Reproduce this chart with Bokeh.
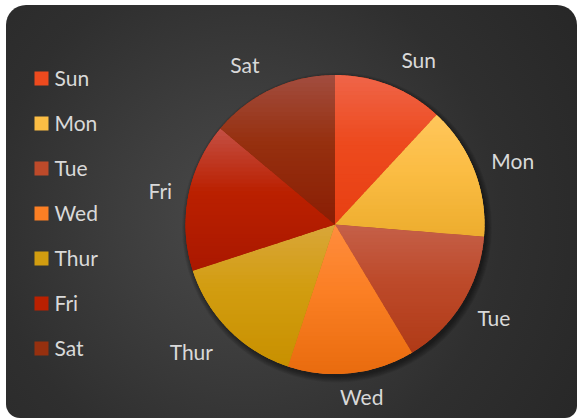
import numpy as np
from bokeh.plotting import figure
from bokeh.models import Range1d, ColumnDataSource
from bokeh.embed import file_html
from bokeh.resources import INLINE
from bokeh.core.properties import value

# ---------------- data ----------------
days = ["Sun", "Mon", "Tue", "Wed", "Thur", "Fri", "Sat"]
shares = [11.9, 14.4, 15.1, 13.7, 14.9, 16.1, 13.9]

# ---------------- styles ----------------
col_top = ["#EF6549", "#FFC65C", "#C56049", "#FF8D3E", "#D9A63A", "#C45045", "#A24D40"]
col_mid = ["#ED4A1E", "#FBBD44", "#BD4A2A", "#FB7F24", "#D29D10", "#BA2000", "#96300F"]
col_bot = ["#E83F12", "#EDAD2E", "#B03A17", "#E96C0E", "#C89000", "#AA1800", "#8A1E04"]
# small label nudges in screen px (x right, y down)
label_dx = [18, 10, 6, 7, -16, 2, -14]
label_dy = [3, 1, -2, -7, 0, 0, 3]

W, H = 571, 413
CX, CY, R = 328.5, 194.0, 149.5
FONT = "Lato"
TXT = "#D9D9D9"

p = figure(width=W, height=H, x_range=Range1d(0, W), y_range=Range1d(0, H),
           output_backend="svg", toolbar_location=None, min_border=0,
           background_fill_alpha=0, border_fill_alpha=0, outline_line_color=None)
p.axis.visible = False
p.grid.visible = False
p.styles = {
    "margin": "5px 0px 0px 6px",
    "border-radius": "20px 20px 12px 14px",
    "overflow": "hidden",
    "background": "radial-gradient(circle at 42% 52%, #4a4a4a 0%, #3e3e3e 30%, #2f2f2f 65%, #272727 100%)",
}

vals = np.array(shares, dtype=float)
frac = vals / vals.sum()
cum = np.concatenate([[0.0], np.cumsum(frac)])
start = np.pi / 2 - 2 * np.pi * cum[:-1]
end = np.pi / 2 - 2 * np.pi * cum[1:]

# soft shadow
for k in range(7):
    p.circle(x=[CX + 2], y=[CY - 3], radius=R + k * 0.9, fill_color="black",
             fill_alpha=0.07, line_color=None)

src = ColumnDataSource(dict(day=days, start=start, end=end, color=col_mid))
p.wedge(x=CX, y=CY, radius=R, start_angle="start", end_angle="end",
        direction="clock", fill_color="color", line_color=None, source=src)


# vertical gradient shading of each slice
def clip(pts, y0, y1):
    def half(poly, keep, inter):
        out = []
        n = len(poly)
        for i in range(n):
            a, b = poly[i], poly[(i + 1) % n]
            ka, kb = keep(a), keep(b)
            if ka:
                out.append(a)
            if ka != kb:
                out.append(inter(a, b))
        return out

    def ix(y):
        return lambda a, b: (a[0] + (b[0] - a[0]) * (y - a[1]) / (b[1] - a[1]), y)

    poly = half(pts, lambda q: q[1] >= y0, ix(y0))
    if not poly:
        return []
    return half(poly, lambda q: q[1] <= y1, ix(y1))


def hex2rgb(h):
    return np.array([int(h[i:i + 2], 16) for i in (1, 3, 5)], dtype=float)


def mix(c0, c1, c2, t):
    a, b, c = hex2rgb(c0), hex2rgb(c1), hex2rgb(c2)
    if t < 0.45:
        r = a + (b - a) * (t / 0.45)
    else:
        r = b + (c - b) * ((t - 0.45) / 0.55)
    return "#%02x%02x%02x" % tuple(int(round(v)) for v in r)


xs, ys, cs = [], [], []
NB = 36
for i in range(len(days)):
    ang = np.linspace(start[i], end[i], 80)
    poly = [(CX, CY)] + [(CX + R * np.cos(a), CY + R * np.sin(a)) for a in ang]
    ymax = max(q[1] for q in poly)
    ymin = min(q[1] for q in poly)
    edges = np.linspace(ymax, ymin, NB + 1)
    for k in range(NB):
        seg = clip(poly, edges[k + 1] - 0.4, edges[k] + 0.4)
        if len(seg) < 3:
            continue
        t = (k + 0.5) / NB
        xs.append([q[0] for q in seg])
        ys.append([q[1] for q in seg])
        cs.append(mix(col_top[i], col_mid[i], col_bot[i], t))
p.patches(xs=xs, ys=ys, fill_color=cs, line_color=None)

# outside labels
mid = np.pi / 2 - 2 * np.pi * (cum[:-1] + cum[1:]) / 2
RL = 180
lsrc = ColumnDataSource(dict(x=CX + RL * np.cos(mid), y=CY + RL * np.sin(mid), t=days,
                             dx=label_dx, dy=label_dy))
p.text(x="x", y="y", text="t", x_offset="dx", y_offset="dy", source=lsrc,
       text_align="center", text_baseline="middle", text_font=value(FONT),
       text_font_size="21px", text_color=TXT)

# legend
LX, LY0, LSTEP = 35, 340, 45
ly = [LY0 - LSTEP * i for i in range(len(days))]
p.rect(x=[LX] * len(days), y=ly, width=14, height=14, fill_color=col_mid, line_color=None)
p.text(x=[LX + 13] * len(days), y=ly, text=days, text_align="left", text_baseline="middle",
       text_font=value(FONT), text_font_size="21px", text_color=TXT, y_offset=-1)

open("out.html", "w").write(file_html(p, INLINE))
